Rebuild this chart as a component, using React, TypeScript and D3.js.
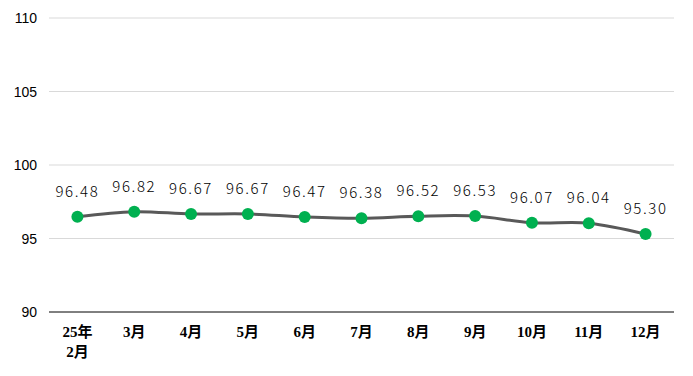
import React from "react";
import * as d3 from "d3";

const categories: string[][] = [["25年", "2月"], ["3月"], ["4月"], ["5月"], ["6月"], ["7月"], ["8月"], ["9月"], ["10月"], ["11月"], ["12月"]];
const values: number[] = [96.48, 96.82, 96.67, 96.67, 96.47, 96.38, 96.52, 96.53, 96.07, 96.04, 95.3];
const yTicks: number[] = [90, 95, 100, 105, 110];

const W = 693, H = 376;
const margin = { left: 49, right: 19, top: 18, bottom: 64 };

export default function App() {
  const x = d3.scaleBand<number>().domain(d3.range(values.length)).range([margin.left, W - margin.right]);
  const y = d3.scaleLinear().domain([90, 110]).range([H - margin.bottom, margin.top]);
  const cx = (i: number) => (x(i) as number) + x.bandwidth() / 2;
  const line = d3.line<number>().x((_, i) => cx(i)).y((d) => y(d)).curve(d3.curveCatmullRom.alpha(0.5));
  return (
    <svg width={W} height={H} style={{ position: "absolute", left: 0, top: 0, background: "#fff" }}>
      {yTicks.map((t) => (
        <g key={t}>
          <line x1={margin.left} x2={W - margin.right} y1={y(t)} y2={y(t)} stroke={t === 90 ? "#000" : "#d9d9d9"} strokeWidth={1} />
          <text x={37} y={y(t)} dy="0.36em" textAnchor="end" fontFamily="Liberation Sans, Arial, sans-serif" fontSize={14} fill="#000">{t}</text>
        </g>
      ))}
      <path d={line(values) || ""} fill="none" stroke="#595959" strokeWidth={3} />
      {values.map((v, i) => (
        <g key={i}>
          <circle cx={cx(i)} cy={y(v)} r={6} fill="#00b050" />
          <text x={cx(i)} y={y(v) - 20} textAnchor="middle" fontFamily="'Noto Sans CJK SC', sans-serif" fontWeight={300} letterSpacing={1.6} fontSize={15} fill="#000">{v.toFixed(2)}</text>
        </g>
      ))}
      {categories.map((c, i) => (
        <text key={i} x={cx(i)} y={337} textAnchor="middle" fontFamily="'Liberation Serif', 'Noto Sans CJK SC', serif" fontWeight="bold" fontSize={15} fill="#000">
          {c.map((s, j) => (
            <tspan key={j} x={cx(i)} dy={j === 0 ? 0 : 20}>{s}</tspan>
          ))}
        </text>
      ))}
    </svg>
  );
}
